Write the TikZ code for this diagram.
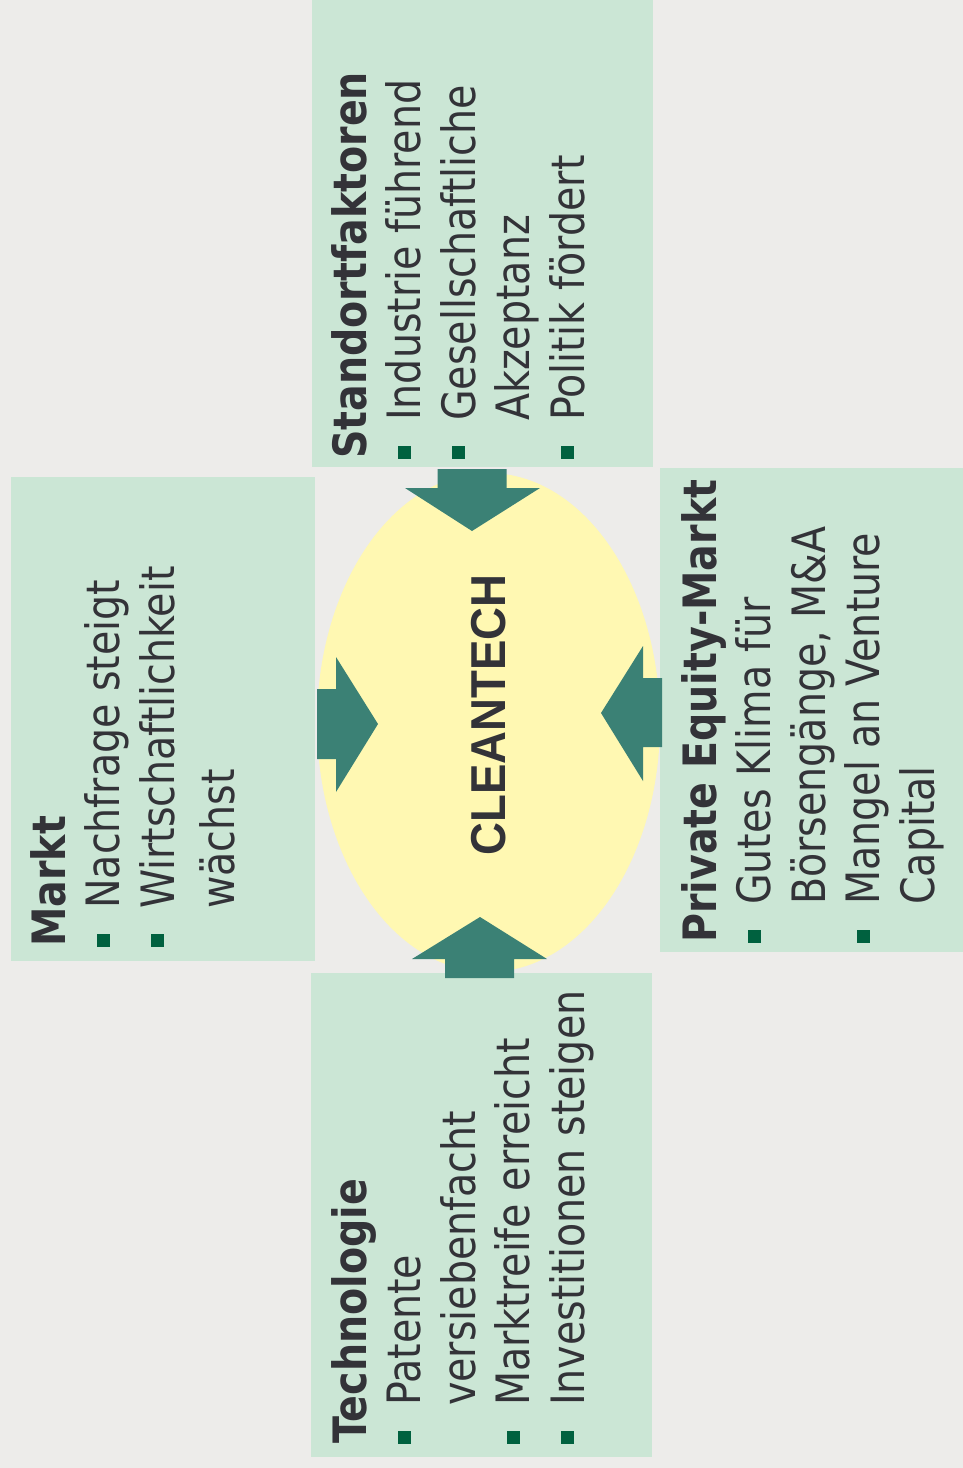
\documentclass[tikz,border=0pt]{standalone}
\usepackage{fontspec}
\usetikzlibrary{shapes.geometric}
\setmainfont{DejaVu Sans}[FakeStretch=0.86]
\newfontfamily\cleanfont{Liberation Sans}[FakeStretch=0.93]
\definecolor{bgcol}{HTML}{EDECEA}
\definecolor{boxcol}{HTML}{CBE6D5}
\definecolor{ellcol}{HTML}{FFF8B2}
\definecolor{arrcol}{HTML}{3B8175}
\definecolor{txtcol}{HTML}{333338}
\definecolor{bulcol}{HTML}{00613F}
\newcommand\bul{\makebox[38pt][l]{\textcolor{bulcol}{\rule[10pt]{13pt}{13pt}}}}
\newcommand\ind{\makebox[38pt]{}}
\tikzset{
  infobox/.style={fill=boxcol},
  blockarrow/.style={fill=arrcol},
  infotext/.style={rotate=90, anchor=north west, inner sep=0pt, align=left,
    text=txtcol, font=\fontsize{46}{54.5}\selectfont},
}
\begin{document}
\begin{tikzpicture}[x=1pt,y=-1pt]
\useasboundingbox (0,0) rectangle (963,1468);
\fill[bgcol] (0,0) rectangle (963,1468);
% boxes
\fill[infobox] (312,0) rectangle (653,467);
\fill[infobox] (11,477) rectangle (315,961);
\fill[infobox] (660,468) rectangle (963,952);
\fill[infobox] (311,973) rectangle (652,1457);
% central ellipse
\node[ellipse, fill=ellcol, minimum width=343pt, minimum height=499pt, inner sep=0pt] (core) at (488.5,722.5) {};
\node[rotate=90, inner sep=0pt, text=txtcol, font=\cleanfont\bfseries\fontsize{49}{58}\selectfont] (cleantech) at (489,715) {CLEANTECH};
% arrows
\fill[blockarrow] (437.5,469) -- (506.5,469) -- (506.5,488) -- (540,488) -- (472,531) -- (405,488) -- (437.5,488) -- cycle;
\fill[blockarrow] (317,689) -- (336,689) -- (336,657) -- (378,724) -- (336,792) -- (336,759) -- (317,759) -- cycle;
\fill[blockarrow] (662,678) -- (643,678) -- (643,646) -- (601,713) -- (643,781) -- (643,747) -- (662,747) -- cycle;
\fill[blockarrow] (445,978) -- (514,978) -- (514,959) -- (547,959) -- (480,917) -- (412,959) -- (445,959) -- cycle;
% texts
\node[infotext] (markt) at (30,947) {\textbf{Markt}\\ \bul Nachfrage steigt\\ \bul Wirtschaftlichkeit\\[5.5pt] \ind wächst};
\node[infotext] (standort) at (331,459) {\textbf{Standortfaktoren}\\ \bul Industrie führend\\ \bul Gesellschaftliche\\ \ind Akzeptanz\\ \bul Politik fördert};
\node[infotext] (pe) at (681,943) {\textbf{Private Equity-Markt}\\ \bul Gutes Klima für\\ \ind Börsengänge, M\&A\\ \bul Mangel an Venture\\ \ind Capital};
\node[infotext] (tech) at (331,1444) {\textbf{Technologie}\\ \bul Patente\\ \ind versiebenfacht\\ \bul Marktreife erreicht\\ \bul Investitionen steigen};
\end{tikzpicture}
\end{document}
